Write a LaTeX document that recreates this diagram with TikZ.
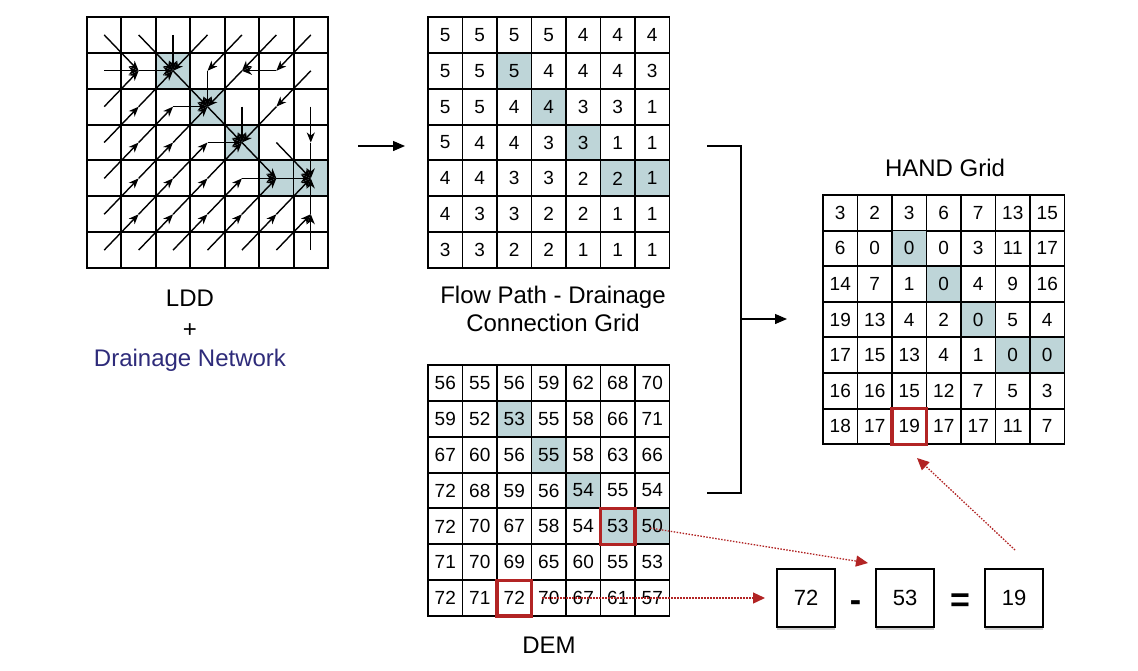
\documentclass[tikz,border=0pt]{standalone}
\usepackage{fontspec}
\setmainfont{Liberation Sans}
\usetikzlibrary{arrows.meta,shadows}
\definecolor{shadecol}{RGB}{190,213,216}
\definecolor{redc}{RGB}{178,36,36}
\definecolor{navy}{RGB}{46,43,122}
\tikzset{
  cell/.style={draw=black, line width=1.9pt, minimum width=34.5pt, minimum height=35.8pt,
    inner sep=0pt, outer sep=0pt, font=\fontsize{19}{22}\selectfont},
  hl23/.style={fill=shadecol}, hl34/.style={fill=shadecol}, hl45/.style={fill=shadecol},
  hl56/.style={fill=shadecol}, hl57/.style={fill=shadecol},
  flowarrow/.style={line width=1.4pt, -{Stealth[length=10pt,width=8pt,inset=3pt]}},
  connector/.style={line width=1.3pt},
  conarrow/.style={connector, -{Triangle[length=12pt,width=10pt]}},
  redarrow/.style={color=redc, line width=1.3pt, dash pattern=on 1.5pt off 1.5pt,
    -{Triangle[length=12pt,width=11pt]}},
  redbox/.style={draw=redc, line width=3.2pt},
  txt/.style={font=\fontsize{24}{28}\selectfont, anchor=base},
  eqbox/.style={draw=black, line width=1.3pt, fill=white, minimum size=58pt, inner sep=0pt,
    font=\fontsize{22}{26}\selectfont, general shadow={fill=black!20, shadow yshift=-2.5pt}},
  opsym/.style={font=\fontsize{34}{38}\selectfont\bfseries, anchor=base},
}
\begin{document}
\begin{tikzpicture}[x=1pt,y=-1pt]
\useasboundingbox[fill=white] (0,0) rectangle (1138,670);

% ---------- LDD grid ----------
\foreach \rr in {1,...,7}{
  \foreach \cc in {1,...,7}{
    \node[cell, hl\rr\cc/.try] (L-\rr-\cc) at ({87+(\cc-0.5)*34.43},{17+(\rr-0.5)*35.86}) {};
  }
}
\foreach \ra/\ca/\rb/\cb in {
  1/1/2/2, 1/2/2/3, 1/3/2/3, 1/4/2/3, 1/5/2/4, 1/6/2/5, 1/7/2/6,
  2/1/2/2, 2/2/2/3, 2/3/3/4, 2/4/3/4, 2/5/3/4, 2/6/2/5, 2/7/3/6,
  3/1/2/2, 3/2/2/3, 3/3/3/4, 3/4/4/5, 3/5/4/5, 3/6/4/5, 3/7/4/7,
  4/1/3/2, 4/2/3/3, 4/3/3/4, 4/4/4/5, 4/5/5/6, 4/6/5/7, 4/7/5/7,
  5/1/4/2, 5/2/4/3, 5/3/4/4, 5/4/4/5, 5/5/5/6, 5/6/5/7,
  6/1/5/2, 6/2/5/3, 6/3/5/4, 6/4/5/5, 6/5/5/6, 6/6/5/7, 6/7/5/7,
  7/1/6/2, 7/2/6/3, 7/3/6/4, 7/4/6/5, 7/5/6/6, 7/6/6/7, 7/7/6/7}{
  \draw[flowarrow] (L-\ra-\ca.center) -- (L-\rb-\cb.center);
}

% ---------- Flow path grid ----------
\foreach \vals [count=\rr] in {{5,5,5,5,4,4,4},{5,5,5,4,4,4,3},{5,5,4,4,3,3,1},
  {5,4,4,3,3,1,1},{4,4,3,3,2,2,1},{4,3,3,2,2,1,1},{3,3,2,2,1,1,1}}{
  \foreach \v [count=\cc] in \vals {
    \node[cell, hl\rr\cc/.try] (F-\rr-\cc) at ({428+(\cc-0.5)*34.5},{17+(\rr-0.5)*35.86}) {\v};
  }
}

% ---------- DEM grid ----------
\foreach \vals [count=\rr] in {{56,55,56,59,62,68,70},{59,52,53,55,58,66,71},{67,60,56,55,58,63,66},
  {72,68,59,56,54,55,54},{72,70,67,58,54,53,50},{71,70,69,65,60,55,53},{72,71,72,70,67,61,57}}{
  \foreach \v [count=\cc] in \vals {
    \node[cell, hl\rr\cc/.try] (D-\rr-\cc) at ({428+(\cc-0.5)*34.5},{365+(\rr-0.5)*35.86}) {\v};
  }
}

% ---------- HAND grid ----------
\foreach \vals [count=\rr] in {{3,2,3,6,7,13,15},{6,0,0,0,3,11,17},{14,7,1,0,4,9,16},
  {19,13,4,2,0,5,4},{17,15,13,4,1,0,0},{16,16,15,12,7,5,3},{18,17,19,17,17,11,7}}{
  \foreach \v [count=\cc] in \vals {
    \node[cell, hl\rr\cc/.try] (H-\rr-\cc) at ({823+(\cc-0.5)*34.5},{195+(\rr-0.5)*35.6}) {\v};
  }
}

% ---------- red highlight boxes ----------
\draw[redbox] (D-5-6.north west) rectangle (D-5-6.south east);
\draw[redbox] (D-7-3.north west) rectangle (D-7-3.south east);
\draw[redbox] (H-7-3.north west) rectangle (H-7-3.south east);

% ---------- labels ----------
\node[txt] (lddlab) at (190,306.7) {LDD};
\node[txt] (pluslab) at (190,337.5) {+};
\node[txt, text=navy] (dnlab) at (190,366) {Drainage Network};
\node[txt] (fp1) at (553,303.3) {Flow Path - Drainage};
\node[txt] (fp2) at (553,331.7) {Connection Grid};
\node[txt] (demlab) at (549,653) {DEM};
\node[txt] (handlab) at (945,176.7) {HAND Grid};

% ---------- connectors ----------
\coordinate (a1s) at (358,146);
\coordinate (a1e) at (405,146);
\draw[conarrow] (a1s) -- (a1e);
\coordinate (brT) at (707,146);
\coordinate (brB) at (707,493);
\coordinate (brM) at (741,319);
\coordinate (handIn) at (787,319);
\draw[connector] (brT) -| (brM) |- (brB);
\draw[conarrow] (brM) -- (handIn);

% ---------- equation ----------
\node[eqbox] (e72) at (806,598) {72};
\node[eqbox] (e53) at (905,598) {53};
\node[eqbox] (e19) at (1014,598) {19};
\node[opsym] (minus) at (855.5,611) {-};
\node[opsym] (equals) at (960,611) {=};

% ---------- red dotted arrows ----------
\coordinate (r1s) at (650,528);
\coordinate (r1e) at (868,563);
\coordinate (r2s) at (542,598);
\coordinate (r2e) at (765,598);
\coordinate (r3s) at (1015,550);
\coordinate (r3e) at (917,458);
\draw[redarrow] (r1s) -- (r1e);
\draw[redarrow] (r2s) -- (r2e);
\draw[redarrow] (r3s) -- (r3e);
\end{tikzpicture}
\end{document}
